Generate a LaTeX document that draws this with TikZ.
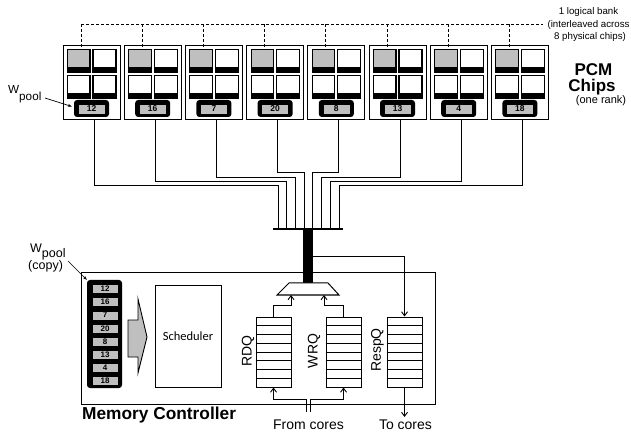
\documentclass[tikz,border=0pt]{standalone}
\usepackage{fontspec}
\setmainfont{Liberation Sans}
\newfontfamily\calib{Carlito}
\usetikzlibrary{arrows.meta,calc}
\newcommand\fsz[1]{\fontsize{#1}{#1}\selectfont}
\begin{document}
\begin{tikzpicture}[x=1pt,y=-1pt,
  chipbox/.style={draw,line width=1pt,minimum width=57pt,minimum height=74pt,inner sep=0},
  bank/.style={draw,line width=1.1pt},
  labouter/.style={fill=black,rounded corners=3pt,minimum width=35pt,minimum height=17pt,inner sep=0},
  labinner/.style={fill=gray!50,draw,line width=0.4pt,minimum width=27pt,minimum height=10pt,inner sep=0,font=\fsz{8.5}\bfseries},
  listitem/.style={fill=gray!50,draw,line width=0.4pt,minimum width=26pt,minimum height=9pt,inner sep=0,font=\fsz{8}\bfseries},
  wire/.style={line width=0.8pt},
  dashline/.style={line width=0.8pt,dash pattern=on 3pt off 2pt},
  arr/.style={-{Straight Barb[length=4pt,width=6pt]},line width=0.9pt},
  smallarr/.style={-{Stealth[length=4pt,width=3pt]},line width=0.7pt},
  queue/.style={draw,line width=1pt,minimum width=35pt,minimum height=70pt,inner sep=0},
  lbl/.style={inner sep=0},
]
\useasboundingbox (0,0) rectangle (631,435);

% ---------- PCM chips ----------
\coordinate (dend) at (543,24);
\foreach \n/\len [count=\j] in {12/65,16/61,7/57,20/52,8/52,13/57,4/61,18/65} {
  \pgfmathsetmacro\xl{63+61.2*(\j-1)}
  \pgfmathsetmacro\bx{278+8.7*(\j-1)}
  \node[chipbox] (chip\j) at (\xl+28.5,83) {};
  % banks
  \draw[bank,fill=gray!50] (\xl+4.5,49.5) rectangle (\xl+27,72);
  \fill (\xl+4.5,67) rectangle (\xl+27,72);
  \draw[bank] (\xl+30,49.5) rectangle (\xl+53,72);
  \fill (\xl+30,67) rectangle (\xl+53,72);
  \draw[bank] (\xl+4.5,75.5) rectangle (\xl+27,98);
  \fill (\xl+4.5,93) rectangle (\xl+27,98);
  \draw[bank] (\xl+30,75.5) rectangle (\xl+53,98);
  \fill (\xl+30,93) rectangle (\xl+53,98);
  % label
  \node[labouter] (lab\j) at (\xl+28.5,108.5) {};
  \node[labinner] at (\xl+28.5,109) {\n};
  % dashed drop
  \coordinate (dt\j) at (\xl+18,24);
  \draw[dashline] (dt\j) -- ++(0,25.5);
  % wires to bus
  \coordinate (b\j) at (\bx,229);
  \draw[wire] ([xshift=2.5pt]chip\j.south) -- ++(0,\len) -| (b\j);
}
\draw[dashline] (dt1) -- (dend);

% ---------- Memory controller ----------
\node[draw,line width=1pt,minimum width=354pt,minimum height=131pt] (mc) at (258,338.5) {};

% bus
\coordinate (busL) at (273,229);
\coordinate (busR) at (343,229);
\draw[line width=1.6pt] (busL) -- (busR);
\node[fill=black,minimum width=10pt,minimum height=54pt,inner sep=0] (bar) at (308,256) {};

% mux
\draw[line width=1pt,fill=white] (289,283) -- (328,283) -- (339,295) -- (277,295) -- cycle;
\coordinate (muxL) at (291,295);
\coordinate (muxR) at (324,295);

% queues
\node[queue] (rdq) at (273.5,352) {};
\node[queue] (wrq) at (343.5,352) {};
\node[queue] (respq) at (404.5,352) {};
\foreach \q in {rdq,wrq,respq}
  \foreach \k in {1,...,7}
    \draw[line width=0.9pt] ($(\q.north west)!\k/8!(\q.south west)$) -- ($(\q.north east)!\k/8!(\q.south east)$);

\node[lbl,rotate=90,font=\fsz{14}] at (248,351) {RDQ};
\node[lbl,rotate=90,font=\fsz{14}] at (314,351) {WRQ};
\node[lbl,rotate=90,font=\fsz{14}] at (377.5,350) {RespQ};

\draw[arr] (rdq.north) -- ++(0,-11) -| (muxL);
\draw[arr] (wrq.north) -- ++(0,-11) -| (muxR);
\draw[arr] (bar.east) -| (respq.north);
\coordinate (tocore) at (404.5,417);
\draw[arr] (respq.south) -- (tocore);

\coordinate (fc1) at (306,412);
\coordinate (fc2) at (310,412);
\draw[arr] (fc1) -- ++(0,-13) -| (rdq.south);
\draw[arr] (fc2) -- ++(0,-13) -| (wrq.south);

% scheduler
\node[draw,line width=1pt,minimum width=66pt,minimum height=101pt,font=\calib\fsz{12.5}] (sched) at (188,336.5) {Scheduler};

% big gray arrow
\draw[line width=0.9pt,fill=gray!50] (128,320) -- (138,320) -- (138,299) -- (147,337) -- (138,373) -- (138,357) -- (128,357) -- cycle;

% wpool copy list
\node[fill=black,rounded corners=3pt,minimum width=35pt,minimum height=108pt,inner sep=0] (wlist) at (104.5,334) {};
\foreach \n [count=\k from 0] in {12,16,7,20,8,13,4,18}
  \node[listitem] (li\k) at (105,289+13.1*\k) {\n};

% ---------- texts ----------
\node[lbl,anchor=base,font=\fsz{9.7}] at (588.5,15) {1 logical bank};
\node[lbl,anchor=base,font=\fsz{9.7}] at (588.5,27.5) {(interleaved across};
\node[lbl,anchor=base,font=\fsz{9.7}] at (590,40) {8 physical chips)};

\node[lbl,anchor=base,font=\fsz{17}\bfseries] at (593.5,75.5) {PCM};
\node[lbl,anchor=base,font=\fsz{17}\bfseries] at (592,91.5) {Chips};
\node[lbl,anchor=base,font=\fsz{11}] at (601,103.5) {(one rank)};

\node[lbl,anchor=base west,font=\fsz{17.3}\bfseries] at (82,419) {Memory Controller};
\node[lbl,anchor=base,font=\fsz{14}] at (308.5,429) {From cores};
\node[lbl,anchor=base,font=\fsz{14}] at (405.5,429) {To cores};

\node[lbl,anchor=base west,font=\fsz{11.7}] (wp) at (8,94) {W\raisebox{-6.5pt}{pool}};
\coordinate (wpa) at (45,98);
\draw[smallarr] (wpa) -- ([xshift=-2pt,yshift=2pt]lab1.west);

\node[lbl,anchor=base west,font=\fsz{12.5}] (wpc) at (30,253) {W\raisebox{-5pt}{pool}};
\node[lbl,anchor=base west,font=\fsz{12.5}] (cpy) at (28,270) {(copy)};
\coordinate (wpca) at (68,261);
\draw[smallarr] (wpca) -- (wlist.north west);
\end{tikzpicture}
\end{document}
